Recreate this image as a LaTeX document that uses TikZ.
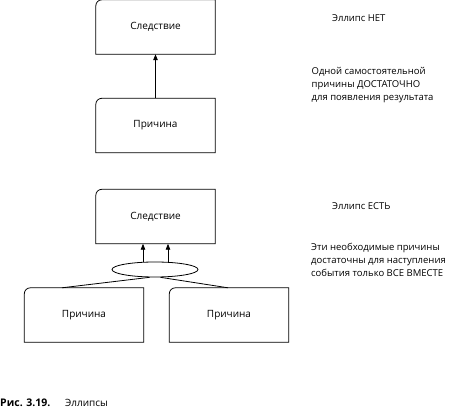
\documentclass[tikz,border=0pt]{standalone}
\usepackage{fontspec}
\setmainfont{Open Sans}
\usetikzlibrary{arrows.meta,shapes.geometric}
\tikzset{
  box/.style={draw=none, minimum width=119pt, minimum height=54pt, inner sep=0pt, font=\fontsize{10}{12}\selectfont},
  outline/.style={line width=0.8pt},
  conn/.style={line width=0.8pt},
  arr/.style={line width=0.8pt, -{Triangle[length=6pt,width=4.5pt]}},
  note/.style={anchor=west, align=left, inner sep=0pt, font=\fontsize{9.5}{12.7}\selectfont},
}
\newcommand{\roundbox}[1]{%
  \draw[outline] (#1.north east) -- ([xshift=6pt]#1.north west)
    arc[start angle=90, end angle=180, radius=6pt]
    -- (#1.south west) -- (#1.south east) -- cycle;}
\begin{document}
\begin{tikzpicture}[x=1pt,y=-1pt]
\useasboundingbox (0,0) rectangle (450,411);
% top group
\node[box] (s1) at (155.5,27) {Следствие};
\node[box] (p1) at (155.5,125.5) {Причина};
\roundbox{s1}
\roundbox{p1}
\draw[arr] (p1.north) -- (s1.south);
% bottom group
\node[box] (s2) at (155.5,216.5) {Следствие};
\node[draw, ellipse, line width=0.8pt, minimum width=86pt, minimum height=15pt, inner sep=0pt] (e) at (155,269.5) {};
\node[box] (p2) at (84,315) {Причина};
\node[box] (p3) at (229,315) {Причина};
\roundbox{s2}
\roundbox{p2}
\roundbox{p3}
\coordinate (a1) at (143,262);
\coordinate (a2) at (168,262);
\draw[arr] (a1) -- (a1 |- s2.south);
\draw[arr] (a2) -- (a2 |- s2.south);
\draw[conn] (e.-125) -- ([xshift=-22pt]p2.north);
\draw[conn] (e.-55) -- ([xshift=-1pt]p3.north);
% notes
\node[note] (n1) at (332,18) {Эллипс НЕТ};
\node[note] (n2) at (311.5,85) {Одной самостоятельной\\причины ДОСТАТОЧНО\\для появления результата};
\node[note] (n3) at (332,206) {Эллипс ЕСТЬ};
\node[note] (n4) at (311,260) {Эти необходимые причины\\достаточны для наступления\\события только ВСЕ ВМЕСТЕ};
% caption
\node[note, font=\fontsize{10.5}{12}\selectfont\bfseries] (c1) at (0,403) {Рис. 3.19.};
\node[note, font=\fontsize{10}{12}\selectfont] (c2) at (65,403) {Эллипсы};
\end{tikzpicture}
\end{document}
